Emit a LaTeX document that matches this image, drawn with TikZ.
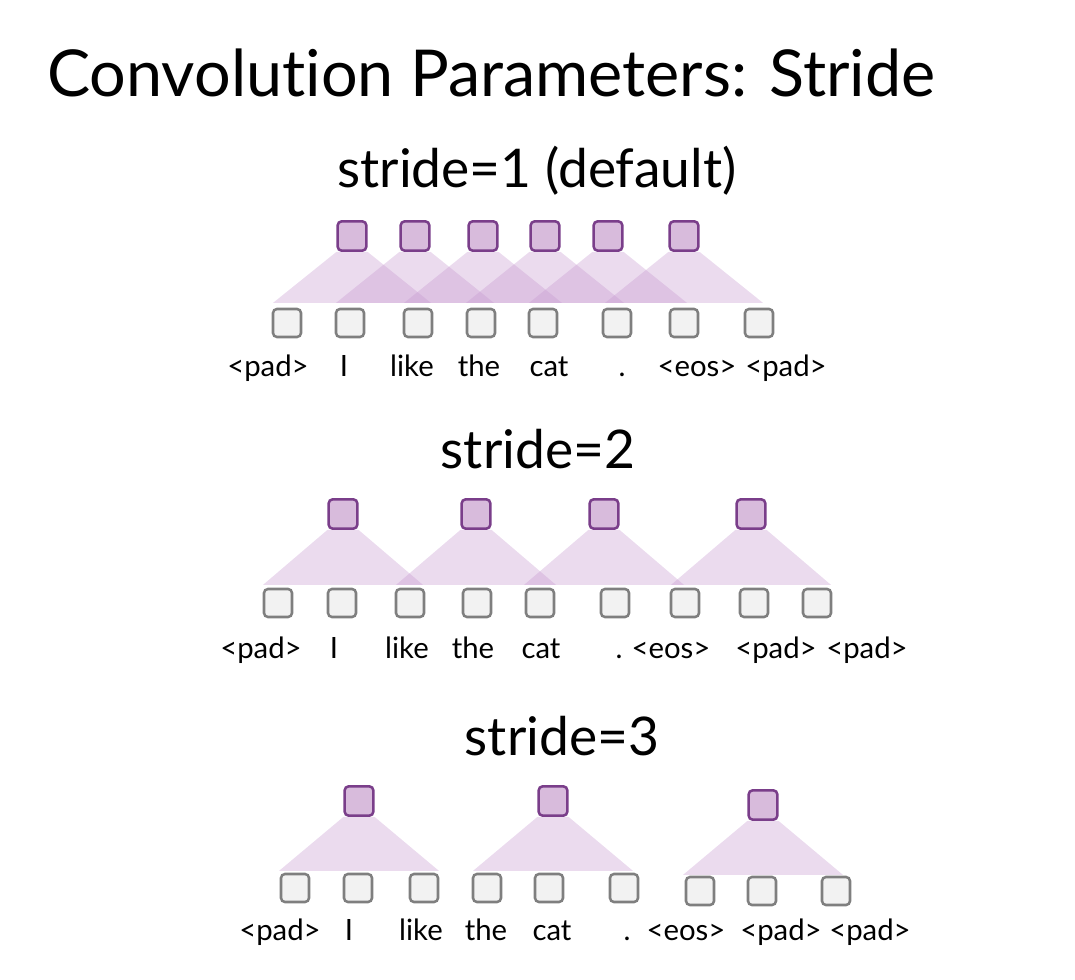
\documentclass[tikz,border=0pt]{standalone}
\usepackage{fontspec}
\setmainfont{Lato}[Ligatures={NoCommon}]
\usepackage{xcolor}
\usetikzlibrary{calc,backgrounds}
\definecolor{unitpurple}{HTML}{D8BBDC}
\definecolor{edgepurple}{HTML}{7A3E8A}
\definecolor{fieldpurple}{HTML}{C597CF}
\definecolor{tokgray}{HTML}{F2F2F2}
\definecolor{edgegray}{HTML}{7F7F7F}

\begin{document}
\begin{tikzpicture}[x=0.75pt,y=-0.75pt,
  outbox/.style={draw=edgepurple, fill=unitpurple, line width=1.9pt, rounded corners=3pt,
    minimum width=21.5pt, minimum height=22pt, inner sep=0pt},
  tokbox/.style={draw=edgegray, fill=tokgray, line width=1.9pt, rounded corners=3pt,
    minimum width=21pt, minimum height=21pt, inner sep=0pt},
  field/.style={fill=fieldpurple, fill opacity=0.35},
  word/.style={font=\fontsize{22}{26}\selectfont, anchor=base, inner sep=0pt},
  heading/.style={font=\fontsize{40}{44}\selectfont, anchor=base, inner sep=0pt}]
\useasboundingbox (0,0) rectangle (1075,980);

\node[anchor=base west, inner sep=0pt, font=\fontsize{48.5}{54}\selectfont] (title) at (47,97)
  {Convolution Parameters: Stride};

% stride = 1
\node[heading] (h1) at (537,188) {stride=1 (default)};
\foreach \x [count=\i] in {352,415,483,545,608,684}
  \node[outbox] (a\i) at (\x,236) {};
\foreach \x [count=\i] in {287,350,418,481,543,617,684,759}
  \node[tokbox] (ta\i) at (\x,323) {};
\begin{scope}[on background layer]
\foreach \i in {1,...,6}
  \fill[field] (a\i.south west) -- (a\i.south east)
    -- ($(a\i.south)+(79,51)$) -- ($(a\i.south)+(-79,51)$) -- cycle;
\end{scope}
\foreach \x/\w [count=\i] in {268/{<pad>},344/I,412/like,479/the,549/cat,622/.,697/{<eos>},786/{<pad>}}
  \node[word] (la\i) at (\x,377) {\w};

% stride = 2
\node[heading] (h2) at (538,469) {stride=2};
\foreach \x [count=\i] in {343,476,604,751}
  \node[outbox] (b\i) at (\x,514) {};
\foreach \x [count=\i] in {278,342,410,477,540,615,685,754,817}
  \node[tokbox] (tb\i) at (\x,603) {};
\begin{scope}[on background layer]
\foreach \i in {1,...,4}
  \fill[field] (b\i.south west) -- (b\i.south east)
    -- ($(b\i.south)+(80,55)$) -- ($(b\i.south)+(-80,55)$) -- cycle;
\end{scope}
\foreach \x/\w [count=\i] in {261/{<pad>},334/I,407/like,473/the,541/cat,619/.,671/{<eos>},776/{<pad>},867/{<pad>}}
  \node[word] (lb\i) at (\x,658) {\w};

% stride = 3
\node[heading] (h3) at (562,755) {stride=3};
\foreach \x/\y [count=\i] in {359/801,553/801,763/805}
  \node[outbox] (c\i) at (\x,\y) {};
\foreach \x/\y [count=\i] in {295/888,358/888,424/888,487/888,549/888,624/888,700/891,762/891,836/891}
  \node[tokbox] (tc\i) at (\x,\y) {};
\begin{scope}[on background layer]
\foreach \i in {1,2,3}
  \fill[field] (c\i.south west) -- (c\i.south east)
    -- ($(c\i.south)+(80,54)$) -- ($(c\i.south)+(-80,54)$) -- cycle;
\end{scope}
\foreach \x/\w [count=\i] in {280/{<pad>},349/I,421/like,486/the,552/cat,627/.,686/{<eos>},781/{<pad>},870/{<pad>}}
  \node[word] (lc\i) at (\x,940) {\w};
\end{tikzpicture}
\end{document}
